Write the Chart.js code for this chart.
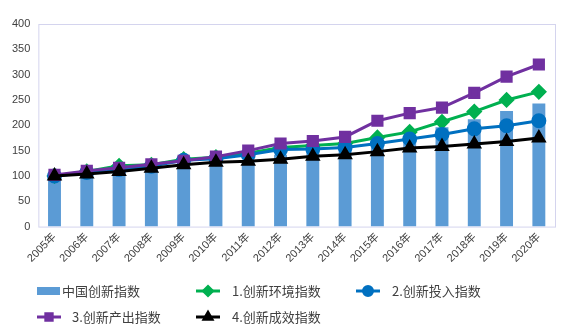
<!DOCTYPE html>
<html>
<head>
<meta charset="utf-8">
<script src="https://cdn.jsdelivr.net/npm/chart.js@4"></script>
<style>
  html, body { margin: 0; padding: 0; background: #fff; }
  #wrap { width: 582px; height: 335px; position: relative; }
</style>
</head>
<body>
<div id="wrap"><canvas id="innovChart"></canvas></div>
<script>
// DATA

const years = ['2005年','2006年','2007年','2008年','2009年','2010年','2011年','2012年',
               '2013年','2014年','2015年','2016年','2017年','2018年','2019年','2020年'];

const chinaIndex  = [100,105,110,114,120,126,131,142,149,158,166,175,196,212,228,243];
const envIndex    = [100,109,120,122,133,137,145,156,160,164,176,187,207,227,250,266];
const inputIndex  = [100,107,113,119,131,134,142,152,153,156,164,173,182,193,199,209];
const outputIndex = [102,110,116,123,130,138,150,164,169,177,209,224,235,264,296,320];
const effectIndex = [100,104,109,115,122,127,129,133,139,142,148,155,158,163,168,175];

const names = ['中国创新指数','1.创新环境指数','2.创新投入指数','3.创新产出指数','4.创新成效指数'];
const yTicks = [0,50,100,150,200,250,300,350,400];

const FONT = '"Liberation Sans", "Noto Sans CJK SC", sans-serif';

// plot frame + legend drawn on the canvas
const framePlugin = {
    id: 'frame',
    beforeDatasetsDraw(chart) {
        const a = chart.chartArea, c = chart.ctx;
        c.save();
        c.strokeStyle = '#d4d4ee';
        c.lineWidth = 1;
        c.strokeRect(a.left + 0.5, a.top + 0.5, a.right - a.left, a.bottom - a.top);
        c.restore();
    },
    afterDraw(chart) {
        const c = chart.ctx;
        const slots = [[37, 291], [196, 291], [356, 291], [37, 317], [196, 317]];
        const textX = [62, 232, 392, 72, 232];
        c.save();
        c.font = '13px "Noto Sans CJK SC", sans-serif';
        c.textBaseline = 'middle';
        chart.data.datasets.forEach((ds, i) => {
            const [x, y] = slots[i];
            if (ds.type === 'bar') {
                c.fillStyle = ds.backgroundColor;
                c.fillRect(x, y - 4, 23, 8);
            } else {
                c.strokeStyle = ds.borderColor;
                c.lineWidth = 3;
                c.beginPath(); c.moveTo(x, y); c.lineTo(x + 24, y); c.stroke();
                Chart.helpers.drawPoint(c, {
                    pointStyle: ds.pointStyle, radius: 4.5, rotation: 0, borderWidth: 1
                }, x + 12, y);
                c.fillStyle = ds.borderColor;
                c.fill();
            }
            c.fillStyle = '#404040';
            c.fillText(ds.label, textX[i], y);
        });
        c.restore();
    }
};

const ctx = document.getElementById('innovChart');

new Chart(ctx, {
    data: {
        labels: years,
        datasets: [
            { type: 'bar', label: names[0], data: chinaIndex, backgroundColor: '#5b9bd5',
              barPercentage: 0.4, categoryPercentage: 1, order: 10 },
            { type: 'line', label: names[1], data: envIndex, borderColor: '#00b050', backgroundColor: '#00b050',
              pointStyle: 'rectRot', pointRadius: 6, borderWidth: 3, order: 4 },
            { type: 'line', label: names[2], data: inputIndex, borderColor: '#0070c0', backgroundColor: '#0070c0',
              pointStyle: 'circle', pointRadius: 6, borderWidth: 3, order: 3 },
            { type: 'line', label: names[3], data: outputIndex, borderColor: '#7030a0', backgroundColor: '#7030a0',
              pointStyle: 'rect', pointRadius: 6.5, borderWidth: 3, order: 2 },
            { type: 'line', label: names[4], data: effectIndex, borderColor: '#000000', backgroundColor: '#000000',
              pointStyle: 'triangle', pointRadius: 6, borderWidth: 3, order: 1 }
        ]
    },
    options: {
        responsive: true,
        maintainAspectRatio: false,
        animation: false,
        layout: { padding: { left: 4, right: 27, top: 24, bottom: 66 } },
        plugins: {
            legend: { display: false },
            tooltip: { enabled: false }
        },
        scales: {
            x: {
                grid: { display: false, drawTicks: false },
                border: { display: false },
                ticks: {
                    maxRotation: 45, minRotation: 45, autoSkip: false, padding: 4,
                    color: '#404040', font: { family: FONT, size: 11 }
                }
            },
            y: {
                min: 0, max: 400,
                afterBuildTicks(axis) { axis.ticks = yTicks.map(v => ({ value: v })); },
                grid: { display: false, drawTicks: false },
                border: { display: false },
                ticks: { padding: 8, color: '#404040', font: { family: FONT, size: 11 } }
            }
        }
    },
    plugins: [framePlugin]
});
</script>
</body>
</html>
